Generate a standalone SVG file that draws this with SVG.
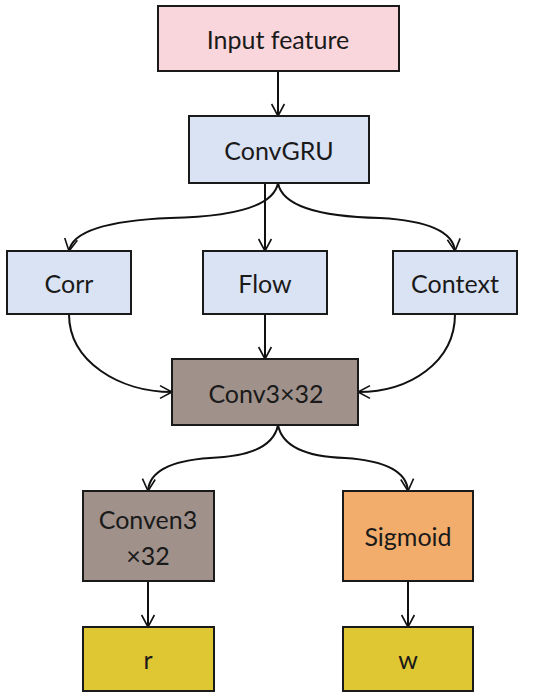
<svg xmlns="http://www.w3.org/2000/svg" width="550" height="700" viewBox="0 0 550 700">
<defs>
<marker id="arr" viewBox="0 0 20 20" refX="18" refY="10" markerWidth="16" markerHeight="16" markerUnits="userSpaceOnUse" orient="auto">
<path d="M3,2 L18,10 L3,18" fill="none" stroke="#111" stroke-width="2"/>
</marker>
<style>
.box{stroke:#1a1a1a;stroke-width:2}
.t{font-family:"Lato","Liberation Sans",sans-serif;font-size:25px;fill:#1a1a1a;text-anchor:middle;dominant-baseline:central}
.c{fill:none;stroke:#111;stroke-width:2;marker-end:url(#arr)}
</style>
</defs>
<rect width="550" height="700" fill="#fff"/>
<g id="connectors">
<path class="c" d="M278,71 L278,116"/>
<path class="c" d="M278,183 Q272,216 170,218 Q74,222 69,251"/>
<path class="c" d="M265,183 L265,251"/>
<path class="c" d="M278,183 Q284,216 380,218 Q452,222 455,251"/>
<path class="c" d="M69,314 C69,362 120,392 172,392"/>
<path class="c" d="M265,314 L265,359"/>
<path class="c" d="M455,314 C455,362 410,392 358,392"/>
<path class="c" d="M278,425 Q272,456 210,458 Q150,462 148,491"/>
<path class="c" d="M278,425 Q284,456 345,458 Q406,462 408,491"/>
<path class="c" d="M148,581 L148,627"/>
<path class="c" d="M408,581 L408,627"/>
</g>
<g id="input"><rect class="box" x="158" y="6" width="241" height="65" fill="#f9d6dc"/><text class="t" x="278" y="39">Input feature</text></g>
<g id="convgru"><rect class="box" x="189" y="116" width="180" height="67" fill="#dae3f3"/><text class="t" x="279" y="150">ConvGRU</text></g>
<g id="corr"><rect class="box" x="7" y="251" width="124" height="63" fill="#dae3f3"/><text class="t" x="69" y="283">Corr</text></g>
<g id="flow"><rect class="box" x="203" y="251" width="124" height="63" fill="#dae3f3"/><text class="t" x="265" y="283">Flow</text></g>
<g id="context"><rect class="box" x="393" y="251" width="124" height="63" fill="#dae3f3"/><text class="t" x="455" y="283">Context</text></g>
<g id="conv3"><rect class="box" x="172" y="359" width="186" height="66" fill="#a0918b"/><text class="t" x="266" y="393">Conv3×32</text></g>
<g id="conven3"><rect class="box" x="83" y="491" width="131" height="90" fill="#a0918b"/><text class="t" x="148" y="519">Conven3</text><text class="t" x="148" y="555">×32</text></g>
<g id="sigmoid"><rect class="box" x="343" y="491" width="130" height="90" fill="#f2ad6c"/><text class="t" x="408" y="536">Sigmoid</text></g>
<g id="r"><rect class="box" x="83" y="627" width="131" height="64" fill="#dfc633"/><text class="t" x="148" y="659">r</text></g>
<g id="w"><rect class="box" x="343" y="627" width="130" height="64" fill="#dfc633"/><text class="t" x="408" y="659">w</text></g>
</svg>
